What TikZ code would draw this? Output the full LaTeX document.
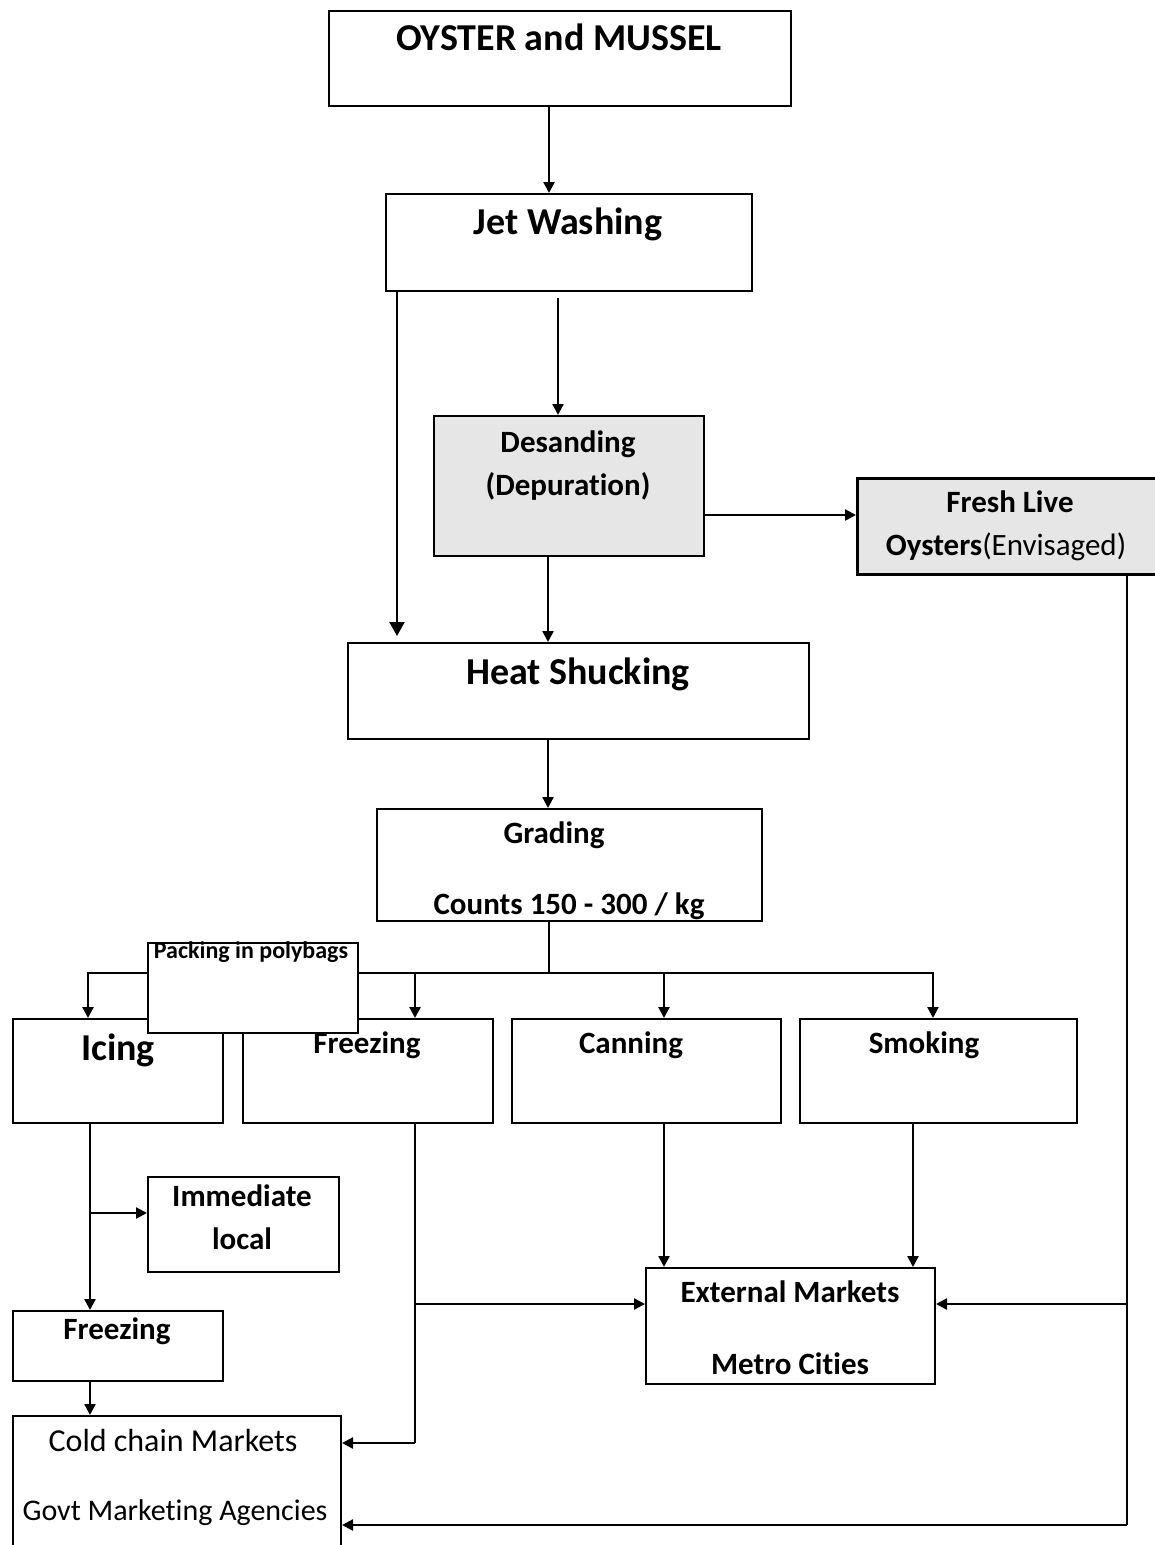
\documentclass[tikz,border=0pt]{standalone}
\usepackage{fontspec}
\setmainfont{Carlito}[Ligatures={NoCommon}]
\usetikzlibrary{arrows.meta}
\definecolor{boxgray}{RGB}{230,230,230}
\newcommand{\nolig}{\kern0pt }
\tikzset{
  box/.style={draw, line width=2pt, inner sep=0pt, anchor=north west, fill=white},
  graybox/.style={box, fill=boxgray},
  arr/.style={line width=2.3pt, -{Triangle[length=11pt,width=11pt]}},
  bigarr/.style={line width=2.3pt, -{Triangle[length=14pt,width=15pt]}},
  ln/.style={line width=2.3pt},
  big/.style={font=\fontsize{38}{40}\selectfont\bfseries, anchor=base, inner sep=0pt},
  med/.style={font=\fontsize{31}{33}\selectfont\bfseries, anchor=base, inner sep=0pt},
  sml/.style={font=\fontsize{24}{26}\selectfont\bfseries, anchor=base, inner sep=0pt},
  reg/.style={font=\fontsize{32}{34}\selectfont, anchor=base, inner sep=0pt}
}
\begin{document}
\begin{tikzpicture}[x=1pt,y=-1pt]
\useasboundingbox (0,0) rectangle (1155,1545);
\clip (0,0) rectangle (1155,1545);
% boxes
\node[box, minimum width=462pt, minimum height=95pt] (oyster) at (328,10) {};
\node[box, minimum width=366pt, minimum height=97pt] (jet) at (385,193) {};
\node[graybox, minimum width=270pt, minimum height=140pt] (desand) at (433,415) {};
\node[graybox, line width=3pt, minimum width=306pt, minimum height=96pt] (fresh) at (856,477) {};
\node[box, minimum width=461pt, minimum height=96pt] (heat) at (347,642) {};
\node[box, minimum width=385pt, minimum height=112pt] (grading) at (376,808) {};
\node[box, minimum width=210pt, minimum height=104pt] (icing) at (12,1018) {};
\node[box, minimum width=250pt, minimum height=104pt] (freezing) at (242,1018) {};
\node[box, minimum width=269pt, minimum height=104pt] (canning) at (511,1018) {};
\node[box, minimum width=277pt, minimum height=104pt] (smoking) at (799,1018) {};
\node[box, minimum width=191pt, minimum height=95pt] (imm) at (147,1176) {};
\node[box, minimum width=210pt, minimum height=70pt] (fz2) at (12,1310) {};
\node[box, minimum width=289pt, minimum height=116pt] (ext) at (645,1267) {};
\node[box, minimum width=328pt, minimum height=150pt] (cold) at (12,1415) {};
% coordinates
\coordinate (split) at (549,973);
\coordinate (ib) at (90,1213);
\coordinate (fzb) at (415,1304);
\coordinate (fzc) at (415,1443);
\coordinate (frb) at (1127,1304);
\coordinate (frc) at (1127,1525);
% connectors
\draw[arr] (oyster.south -| 549,0) -- (jet.north -| 549,0);
\draw[bigarr] (jet.south -| 397,0) -- ([yshift=6pt]heat.north -| 397,0);
\draw[arr] (558,298) -- (desand.north -| 558,0);
\draw[arr] (desand.south -| 548,0) -- (heat.north -| 548,0);
\draw[arr] (desand.east |- 0,515) -- (fresh.west |- 0,515);
\draw[arr] (heat.south -| 548,0) -- (grading.north -| 548,0);
\draw[ln] (grading.south -| split) -- (split);
\draw[arr] (split) -| (icing.north -| 88,0);
\draw[arr] (split) -| (freezing.north -| 415,0);
\draw[arr] (split) -| (canning.north -| 664,0);
\draw[arr] (split) -| (smoking.north -| 933,0);
\draw[arr] (icing.south -| 90,0) -- (fz2.north -| 90,0);
\draw[arr] (ib) -- (imm.west |- ib);
\draw[arr] (fz2.south -| 90,0) -- (cold.north -| 90,0);
\draw[ln] (freezing.south -| fzc) -- (fzc);
\draw[arr] (fzc) -- (cold.east |- fzc);
\draw[arr] (fzb) -- (ext.west |- fzb);
\draw[arr] (canning.south -| 664,0) -- (ext.north -| 664,0);
\draw[arr] (smoking.south -| 913,0) -- (ext.north -| 913,0);
\draw[ln] (fresh.south -| frc) -- (frc);
\draw[arr] (frc) -- (cold.east |- frc);
\draw[arr] (frb) -- (ext.east |- frb);
% packing box on top of branch line
\node[box, minimum width=210pt, minimum height=90pt] (pack) at (147,942) {};
% texts
\node[big] (t1) at (559,50) {OYSTER and MUSSEL};
\node[big] (t2) at (568,234) {Jet Washing};
\node[med] (t3) at (568,452) {Desanding};
\node[med] (t4) at (568,495) {(Depurat\nolig ion)};
\node[med] (t5) at (1010,512) {Fresh Live};
\node[med] (t6) at (1006,555) {\textbf{Oysters}\mdseries(Envisaged)};
\node[big] (t7) at (578,684) {Heat Shucking};
\node[med] (t8) at (554,843) {Grading};
\node[med] (t9) at (569,914) {Counts 150 - 300 / kg};
\node[sml] (t10) at (251,958) {Packing in polybags};
\node[big] (t11) at (118,1060) {Icing};
\node[med] (t12) at (367,1053) {Freezing};
\node[med] (t13) at (631,1053) {Canning};
\node[med] (t14) at (924,1053) {Smoking};
\node[med] (t15) at (242,1206) {Immediate};
\node[med] (t16) at (242,1249) {local};
\node[med] (t17) at (117,1339) {Freezing};
\node[med] (t18) at (790,1302) {External Markets};
\node[med] (t19) at (790,1374) {Metro Cit\nolig ies};
\node[reg] (t20) at (173,1451) {Cold chain Markets};
\node[reg, font=\fontsize{30}{32}\selectfont] (t21) at (175,1520) {Govt Market\nolig ing Agencies};
\end{tikzpicture}
\end{document}
